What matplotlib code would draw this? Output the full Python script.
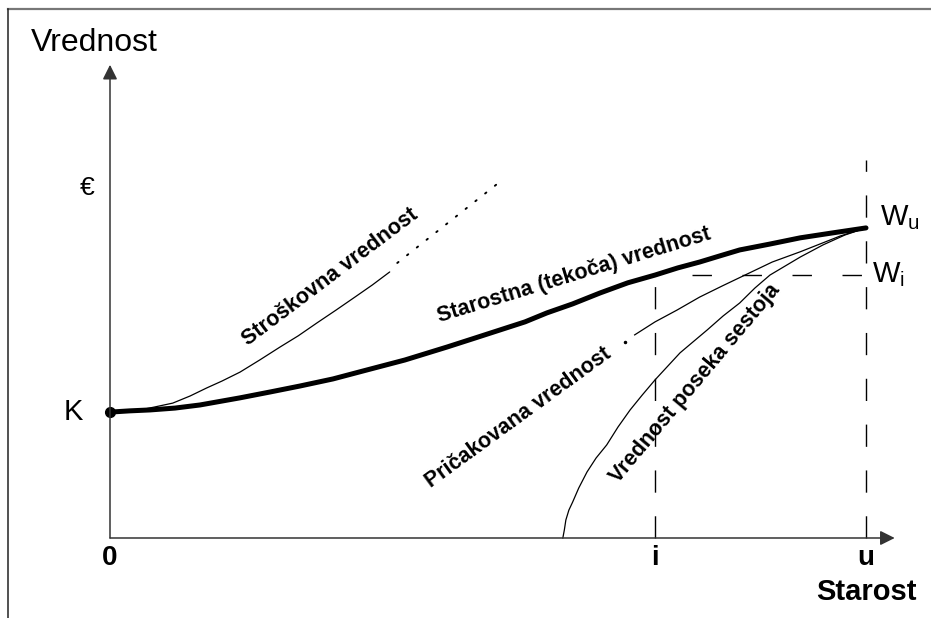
import numpy as np
import matplotlib
matplotlib.use("Agg")
import matplotlib.pyplot as plt
from matplotlib.lines import Line2D

plt.rcParams['font.family'] = ['Liberation Sans', 'DejaVu Sans']
plt.rcParams['mathtext.fontset'] = 'custom'
plt.rcParams['mathtext.rm'] = 'Liberation Sans'

# key values (age on x, value on y)
age_i = 72.1
age_u = 100
K = 40.6
W_i = 84.8
W_u = 100

# Starostna (tekoca) vrednost - thick curve
star_x = [0, 2.6, 5.3, 8.6, 11.9, 17.2, 21.2, 25.1, 29.5, 34.0, 39.0, 44.6, 48.3, 51.6,
          54.9, 57.8, 61.2, 64.8, 68.5, 72.1, 75.1, 78.0, 80.7, 83.3, 87.3, 91.3, 95.6, 100]
star_y = [40.6, 41.0, 41.3, 41.9, 42.9, 45.2, 47.1, 49.0, 51.3, 54.2, 57.4, 61.6, 64.5, 67.1,
          69.7, 72.6, 75.5, 79.0, 82.3, 84.8, 87.1, 89.0, 91.0, 92.9, 94.8, 96.8, 98.4, 100]

# Stroskovna vrednost - thin, then dotted continuation
stro_x = [0, 2.0, 4.0, 6.0, 8.3, 10.6, 12.8, 14.8, 17.2, 19.8, 22.5, 24.9, 27.4, 29.9, 32.4, 34.7, 37.0]
stro_y = [40.6, 40.8, 41.3, 42.3, 43.5, 45.8, 48.4, 50.6, 53.5, 57.4, 61.6, 65.2, 69.4, 73.5, 77.7, 81.6, 85.8]
stro_dot_x = [38.0, 51.9]
stro_dot_y = [88.7, 115.5]

# Pricakovana vrednost
pric_x = [69.4, 72.1, 75.0, 78.0, 81.0, 84.0, 87.6, 91.3, 93.9, 96.6, 100]
pric_y = [65.5, 69.7, 73.5, 77.7, 81.3, 84.8, 89.0, 92.3, 94.8, 97.4, 100]

# Vrednost poseka sestoja
pos_x = [59.9, 60.1, 60.3, 60.7, 61.2, 62.0, 63.1, 64.3, 65.7, 67.2, 68.8, 70.4, 72.1,
         75.4, 77.1, 79.0, 81.1, 83.3, 85.3, 87.3, 89.3, 91.3, 94.3, 97.2, 100]
pos_y = [0, 2.6, 5.8, 9.0, 11.6, 16.1, 21.3, 25.8, 30.0, 35.8, 41.3, 46.1, 51.0,
         59.7, 63.2, 67.1, 71.6, 75.8, 80.6, 84.8, 87.7, 90.6, 94.5, 97.7, 100]

fig = plt.figure(figsize=(9.31, 6.18), dpi=100)
ax = fig.add_axes([0, 0, 1, 1])
ax.set_xlim(-14.55, 108.6)
ax.set_ylim(-25.8, 173.5)
ax.axis('off')

# frame of the picture
fig.add_artist(Line2D([0.0086, 1], [0.9854, 0.9854], transform=fig.transFigure, color='#777777', lw=1.6))
fig.add_artist(Line2D([0.0086, 0.0086], [0, 0.9854], transform=fig.transFigure, color='#222222', lw=1.1))

# axes with arrows
arrow = dict(arrowstyle='-|>', mutation_scale=22, lw=1.1, color='#333333', shrinkA=0, shrinkB=0)
ax.annotate('', xy=(103.8, 0), xytext=(0, 0), arrowprops=arrow)
ax.annotate('', xy=(0, 152.6), xytext=(0, 0), arrowprops=arrow)

# dashed guides
dash = (0, (16, 17))
ax.plot([age_i, age_i], [0, W_i], color='k', lw=1.0, ls=dash)
ax.plot([age_u, age_u], [0, 122], color='k', lw=1.0, ls=dash)
ax.plot([77, age_u], [W_i, W_i], color='k', lw=1.0, ls=(0, (14, 22)))

# curves
ax.plot(stro_x, stro_y, color='k', lw=0.9, solid_capstyle='round')
ax.plot(stro_dot_x, stro_dot_y, color='k', lw=1.4, ls=(0, (0.8, 5.6)), dash_capstyle='round')
ax.plot(pric_x, pric_y, color='k', lw=0.9)
ax.plot([68.1], [63.2], 'o', color='k', ms=1.5)
ax.plot(pos_x, pos_y, color='k', lw=0.9)
ax.plot(star_x, star_y, color='k', lw=3.6, solid_capstyle='round', solid_joinstyle='round')
ax.plot([0], [K], 'o', color='k', ms=7)

# axis texts
ax.text(-2.1, 159.7, 'Vrednost', fontsize=23, ha='center', va='center')
ax.text(100, -17.4, 'Starost', fontsize=21, fontweight='bold', ha='center', va='center')
ax.text(-2.0, 112.9, '€', fontsize=19, ha='right', va='center')
ax.text(-3.6, K, 'K', fontsize=21, ha='right', va='center')
ax.text(0, -2.2, '0', fontsize=20, fontweight='bold', ha='center', va='top')
ax.text(age_i, -2.2, 'i', fontsize=20, fontweight='bold', ha='center', va='top')
ax.text(age_u, -2.2, 'u', fontsize=20, fontweight='bold', ha='center', va='top')
ax.text(101.8, W_u + 3.2, r'W$_\mathrm{u}$', fontsize=21, ha='left', va='center')
ax.text(100.8, W_i, r'W$_\mathrm{i}$', fontsize=21, ha='left', va='center')

# curve labels
lab = dict(fontsize=15.5, fontweight='bold', ha='center', va='center', rotation_mode='anchor')
ax.text(29.1, 84.2, 'Stroškovna vrednost', rotation=37, **lab)
ax.text(61.4, 84.8, 'Starostna (tekoča) vrednost', rotation=17, **lab)
ax.text(54.0, 38.7, 'Pričakovana vrednost', rotation=36, **lab)
ax.text(77.4, 50.0, 'Vrednost poseka sestoja', rotation=50, **lab)

fig.savefig('out.png', dpi=100)
